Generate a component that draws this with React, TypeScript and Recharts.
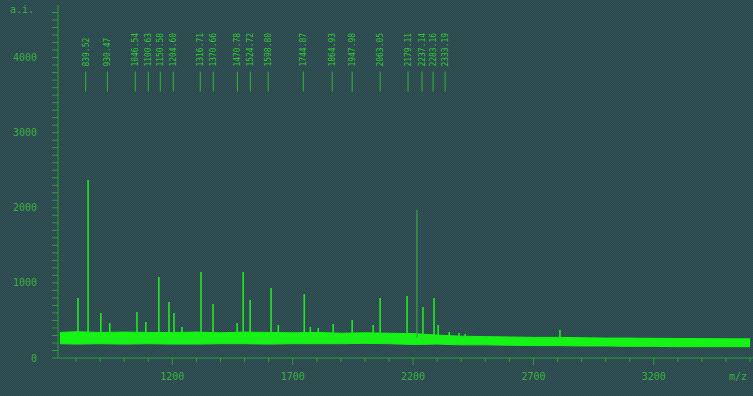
import { ComposedChart, Line, Area, Scatter, XAxis, YAxis } from "recharts";

// baseline noise band (m/z, lower and upper edge, a.i.)
const baseMz = [733, 800, 900, 1000, 1100, 1200, 1300, 1400, 1500, 1600, 1700, 1800, 1900, 2000, 2100, 2200, 2300, 2400, 2500, 2600, 2700, 2800, 2900, 3000, 3100, 3200, 3300, 3400, 3500, 3600];
const baseLow = [190, 185, 190, 185, 190, 185, 185, 190, 190, 185, 190, 190, 190, 195, 190, 180, 185, 175, 175, 170, 165, 165, 160, 160, 155, 155, 150, 150, 150, 150];
const baseHigh = [340, 350, 340, 345, 340, 340, 345, 335, 345, 340, 335, 340, 330, 335, 330, 325, 305, 290, 285, 280, 275, 275, 270, 265, 265, 262, 260, 258, 255, 255];

// peaks (m/z, apex a.i.)
const peakMz = [808, 850, 903, 940, 1053, 1090, 1144, 1186, 1207, 1240, 1319, 1369, 1469, 1494, 1523, 1610, 1640, 1748, 1773, 1806, 1868, 1947, 2034, 2063, 2175, 2241, 2287, 2304, 2350, 2391, 2416, 2810];
const peakTop = [800, 2371, 600, 466, 613, 480, 1079, 746, 600, 413, 1146, 720, 466, 1146, 773, 932, 440, 853, 413, 400, 453, 506, 440, 800, 826, 680, 800, 440, 346, 333, 320, 373];
const dimPeakMz = [2216];
const dimPeakTop = [1971];
const PEAK_BASE = 260;

// peak annotations at the top
const labelMz = [840, 930, 1046, 1100, 1150, 1204, 1316, 1370, 1470, 1524, 1598, 1744, 1864, 1947, 2063, 2179, 2237, 2283, 2333];
const labelText = ["839.52", "930.47", "1046.54", "1100.63", "1150.58", "1204.60", "1316.71", "1370.66", "1470.78", "1524.72", "1598.80", "1744.87", "1864.93", "1947.98", "2063.05", "2179.11", "2237.14", "2283.16", "2333.19"];
const LABEL_Y = 3880;

const xTicks = [800, 900, 1000, 1100, 1200, 1300, 1400, 1500, 1600, 1700, 1800, 1900, 2000, 2100, 2200, 2300, 2400, 2500, 2600, 2700, 2800, 2900, 3000, 3100, 3200, 3300, 3400, 3500, 3600];
const yTicks = [0, 100, 200, 300, 400, 500, 600, 700, 800, 900, 1000, 1100, 1200, 1300, 1400, 1500, 1600, 1700, 1800, 1900, 2000, 2100, 2200, 2300, 2400, 2500, 2600, 2700, 2800, 2900, 3000, 3100, 3200, 3300, 3400, 3500, 3600, 3700, 3800, 3900, 4000, 4100, 4200, 4300, 4400, 4500, 4600];

const BRIGHT = "#14f514";
const PEAK = "#22e822";
const DIM = "#3aa640";
const AXIS = "#2e9c38";
const TEXT = "#38b03c";
const MONO = "'DejaVu Sans Mono', monospace";

const baseData = baseMz.map((mz, i) => ({ mz, range: [baseLow[i], baseHigh[i]] }));
const spikes = (mzs: number[], tops: number[]) =>
  mzs.flatMap((mz, i) => [
    { mz, v: PEAK_BASE },
    { mz, v: tops[i] },
    { mz, v: PEAK_BASE },
  ]);
const peakData = spikes(peakMz, peakTop);
const dimPeakData = spikes(dimPeakMz, dimPeakTop);
const labelData = labelMz.map((mz, i) => ({ mz, v: LABEL_Y, label: labelText[i] }));

const XTick = (props: any) => {
  const { x, y, payload } = props;
  const major = (payload.value - 1200) % 500 === 0;
  const axisY = y - 12;
  return (
    <g>
      <line x1={x} x2={x} y1={axisY} y2={axisY + (major ? 7 : 4)} stroke={AXIS} />
      {major && (
        <text x={x} y={axisY + 22} textAnchor="middle" fill={TEXT} fontSize={10} fontFamily={MONO}>
          {payload.value}
        </text>
      )}
    </g>
  );
};

const YTick = (props: any) => {
  const { x, y, payload } = props;
  const major = payload.value % 1000 === 0;
  return (
    <g>
      <line x1={x} x2={x + 6} y1={y} y2={y} stroke={AXIS} />
      {major && (
        <text x={x - 15} y={y} dy="0.35em" textAnchor="end" fill={TEXT} fontSize={10} fontFamily={MONO}>
          {payload.value}
        </text>
      )}
    </g>
  );
};

const LabelMark = (props: any) => {
  const { cx, cy, payload } = props;
  if (cx == null || cy == null) return null;
  return (
    <g>
      <text
        x={cx + 3}
        y={cy}
        transform={`rotate(-90 ${cx + 3} ${cy})`}
        fill="#30c830"
        fontSize={8}
        fontFamily={MONO}
      >
        {payload.label}
      </text>
      <line x1={cx} x2={cx} y1={cy + 5} y2={cy + 25} stroke="#2fb832" strokeWidth={1} />
    </g>
  );
};

export default function App() {
  return (
    <div
      style={{
        position: "absolute",
        left: 0,
        top: 0,
        width: 753,
        height: 396,
        background: "repeating-conic-gradient(#274354 0% 25%, #35564e 0% 50%) 0 0 / 2px 2px",
        fontFamily: MONO,
      }}
    >
      <span style={{ position: "absolute", left: 10, top: 4, fontSize: 10, color: TEXT }}>a.i.</span>
      <span style={{ position: "absolute", left: 729, top: 371, fontSize: 10, color: TEXT }}>m/z</span>
      <ComposedChart width={753} height={396} margin={{ top: 5, right: 0, bottom: 0, left: 0 }}>
        <XAxis
          type="number"
          dataKey="mz"
          domain={[725, 3612]}
          ticks={xTicks}
          interval={0}
          tick={<XTick />}
          tickLine={false}
          tickSize={6}
          tickMargin={6}
          axisLine={{ stroke: AXIS }}
          height={38}
          allowDataOverflow
        />
        <YAxis
          type="number"
          dataKey="v"
          domain={[0, 4700]}
          ticks={yTicks}
          interval={0}
          tick={<YTick />}
          tickLine={false}
          tickSize={6}
          tickMargin={0}
          axisLine={{ stroke: AXIS }}
          width={58}
          allowDataOverflow
        />
        <Line data={dimPeakData} dataKey="v" type="linear" stroke={DIM} strokeWidth={1.2} dot={false} isAnimationActive={false} />
        <Line data={peakData} dataKey="v" type="linear" stroke={PEAK} strokeWidth={1.6} dot={false} isAnimationActive={false} />
        <Area
          data={baseData}
          dataKey="range"
          type="linear"
          stroke={BRIGHT}
          strokeWidth={1}
          fill={BRIGHT}
          fillOpacity={1}
          dot={false}
          activeDot={false}
          isAnimationActive={false}
        />
        <Scatter data={labelData} dataKey="v" shape={(p: any) => <LabelMark {...p} />} isAnimationActive={false} />
      </ComposedChart>
    </div>
  );
}
